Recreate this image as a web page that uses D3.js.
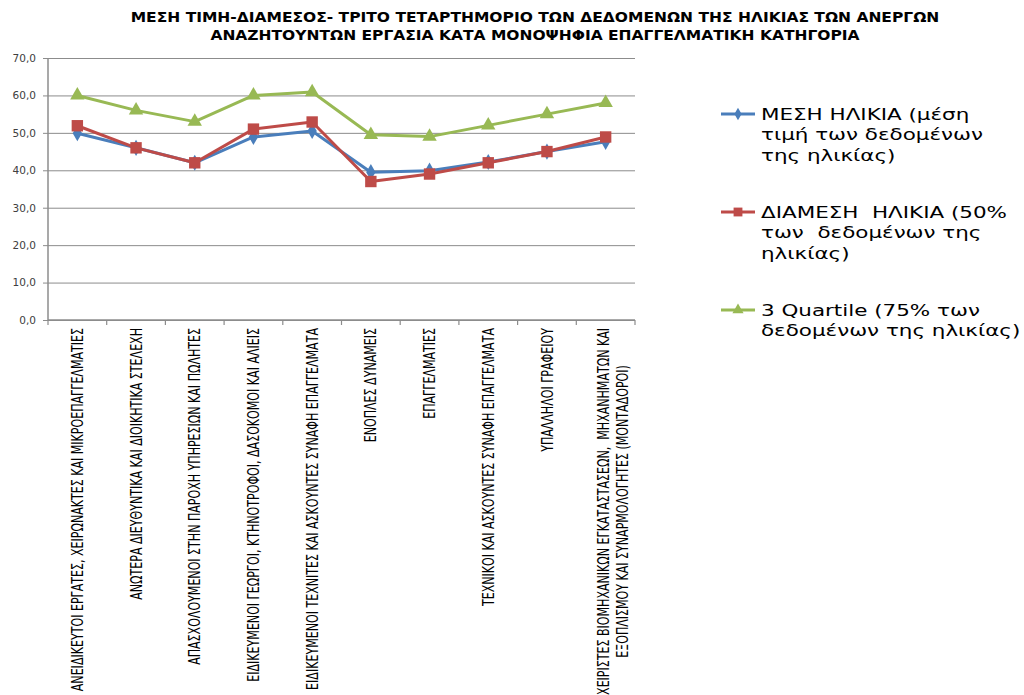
<!DOCTYPE html>
<html>
<head>
<meta charset="utf-8">
<script src="https://cdn.jsdelivr.net/npm/d3@7"></script>
<style>
  body { margin: 0; background: #fff; }
  svg { display: block; }
  text { white-space: pre; }
</style>
</head>
<body>
<svg width="1024" height="695"></svg>
<script>
const categories = [
    ["ΑΝΕΙΔΙΚΕΥΤΟΙ ΕΡΓΑΤΕΣ, ΧΕΙΡΩΝΑΚΤΕΣ ΚΑΙ ΜΙΚΡΟΕΠΑΓΓΕΛΜΑΤΙΕΣ"],
    ["ΑΝΩΤΕΡΑ ΔΙΕΥΘΥΝΤΙΚΑ ΚΑΙ ΔΙΟΙΚΗΤΙΚΑ ΣΤΕΛΕΧΗ"],
    ["ΑΠΑΣΧΟΛΟΥΜΕΝΟΙ ΣΤΗΝ ΠΑΡΟΧΗ ΥΠΗΡΕΣΙΩΝ ΚΑΙ ΠΩΛΗΤΕΣ"],
    ["ΕΙΔΙΚΕΥΜΕΝΟΙ ΓΕΩΡΓΟΙ, ΚΤΗΝΟΤΡΟΦΟΙ, ΔΑΣΟΚΟΜΟΙ ΚΑΙ ΑΛΙΕΙΣ"],
    ["ΕΙΔΙΚΕΥΜΕΝΟΙ ΤΕΧΝΙΤΕΣ ΚΑΙ ΑΣΚΟΥΝΤΕΣ ΣΥΝΑΦΗ ΕΠΑΓΓΕΛΜΑΤΑ"],
    ["ΕΝΟΠΛΕΣ ΔΥΝΑΜΕΙΣ"],
    ["ΕΠΑΓΓΕΛΜΑΤΙΕΣ"],
    ["ΤΕΧΝΙΚΟΙ ΚΑΙ ΑΣΚΟΥΝΤΕΣ ΣΥΝΑΦΗ ΕΠΑΓΓΕΛΜΑΤΑ"],
    ["ΥΠΑΛΛΗΛΟΙ ΓΡΑΦΕΙΟΥ"],
    ["ΧΕΙΡΙΣΤΕΣ ΒΙΟΜΗΧΑΝΙΚΩΝ ΕΓΚΑΤΑΣΤΑΣΕΩΝ,  ΜΗΧΑΝΗΜΑΤΩΝ ΚΑΙ", "ΕΞΟΠΛΙΣΜΟΥ ΚΑΙ ΣΥΝΑΡΜΟΛΟΓΗΤΕΣ (ΜΟΝΤΑΔΟΡΟΙ)"]
];

const meanAge = [49.9, 46.0, 42.0, 48.9, 50.5, 39.5, 39.9, 42.2, 45.0, 47.6];
const medianAge = [51.9, 46.0, 42.0, 51.0, 52.9, 37.0, 39.0, 42.0, 45.0, 48.9];
const thirdQuartile = [60.0, 56.0, 53.0, 60.0, 60.9, 49.5, 49.0, 52.0, 55.0, 58.0];

const yTicks = [0, 10, 20, 30, 40, 50, 60, 70];

const titleLines = [
    "ΜΕΣΗ ΤΙΜΗ-ΔΙΑΜΕΣΟΣ- ΤΡΙΤΟ ΤΕΤΑΡΤΗΜΟΡΙΟ ΤΩΝ ΔΕΔΟΜΕΝΩΝ ΤΗΣ ΗΛΙΚΙΑΣ ΤΩΝ ΑΝΕΡΓΩΝ",
    "ΑΝΑΖΗΤΟΥΝΤΩΝ ΕΡΓΑΣΙΑ ΚΑΤΑ ΜΟΝΟΨΗΦΙΑ ΕΠΑΓΓΕΛΜΑΤΙΚΗ ΚΑΤΗΓΟΡΙΑ"
];

const series = [
    { name: ["ΜΕΣΗ ΗΛΙΚΙΑ (μέση", "τιμή των δεδομένων", "της ηλικίας)"], values: meanAge, color: "#4a7ebb", symbol: d3.symbolDiamond, size: 75 },
    { name: ["ΔΙΑΜΕΣΗ  ΗΛΙΚΙΑ (50%", "των  δεδομένων της", "ηλικίας)"], values: medianAge, color: "#be4b48", symbol: d3.symbolSquare, size: 130 },
    { name: ["3 Quartile (75% των", "δεδομένων της ηλικίας)"], values: thirdQuartile, color: "#98b954", symbol: d3.symbolTriangle, size: 90 }
];

const svg = d3.select("svg");
const plotLeft = 48, plotRight = 635, plotTop = 58, plotBottom = 320;
const stretch = 1.3; // the source picture is widened sideways

const x = d3.scaleBand()
    .domain(d3.range(categories.length))
    .range([plotLeft, plotRight])
    .padding(0);

const y = d3.scaleLinear()
    .domain([0, 70])
    .range([plotBottom, plotTop]);

// title
svg.append("g")
    .selectAll("text")
    .data(titleLines)
    .enter()
    .append("text")
    .attr("x", 535)
    .attr("y", (d, i) => 22 + i * 18)
    .attr("text-anchor", "middle")
    .style("font-family", "'DejaVu Sans Condensed', 'DejaVu Sans', sans-serif")
    .style("font-weight", "bold")
    .style("font-size", "13.5px")
    .style("fill", "#000")
    .text(d => d)
    .each(function() {
        const w = this.getComputedTextLength();
        d3.select(this).attr("textLength", w * 1.275).attr("lengthAdjust", "spacingAndGlyphs");
    });

// y grid + labels
const yAxis = svg.append("g")
    .attr("transform", `translate(${plotLeft},0)`)
    .call(d3.axisLeft(y).tickValues(yTicks).tickSize(-(plotRight - plotLeft)).tickPadding(12)
        .tickFormat(d => d3.format(".1f")(d).replace(".", ",")));
yAxis.select(".domain").remove();
yAxis.selectAll(".tick line")
    .attr("stroke", "#8c8c8c")
    .attr("stroke-width", 1)
    .attr("x1", -5);
yAxis.selectAll(".tick text")
    .style("font-family", "'DejaVu Sans', Verdana, sans-serif")
    .style("font-size", "10.5px")
    .style("fill", "#404040");

// axis lines
svg.append("line")
    .attr("x1", plotLeft).attr("x2", plotLeft)
    .attr("y1", plotTop).attr("y2", plotBottom)
    .attr("stroke", "#8c8c8c").attr("stroke-width", 1.5);

const xAxis = svg.append("g")
    .attr("transform", `translate(0,${plotBottom})`);
xAxis.append("line")
    .attr("x1", plotLeft).attr("x2", plotRight)
    .attr("stroke", "#8c8c8c").attr("stroke-width", 1.5);
xAxis.selectAll("line.tick")
    .data(d3.range(categories.length + 1))
    .enter()
    .append("line")
    .attr("class", "tick")
    .attr("x1", d => plotLeft + d * x.bandwidth())
    .attr("x2", d => plotLeft + d * x.bandwidth())
    .attr("y1", 0).attr("y2", 5)
    .attr("stroke", "#8c8c8c").attr("stroke-width", 1.2);

// category labels, rotated
const labelGroups = svg.append("g")
    .selectAll("g")
    .data(categories)
    .enter()
    .append("g")
    .attr("transform", (d, i) => `translate(${x(i) + x.bandwidth() / 2 + (d.length - 1) * 7},${plotBottom + 8}) scale(${stretch},1) rotate(-90)`);

labelGroups.each(function(lines) {
    const g = d3.select(this);
    const texts = g.selectAll("text")
        .data(lines)
        .enter()
        .append("text")
        .attr("text-anchor", "middle")
        .attr("dy", "0.35em")
        .attr("y", (d, i) => (i - (lines.length - 1) / 2) * 14.5)
        .style("font-family", "'DejaVu Sans Condensed', 'DejaVu Sans', sans-serif")
        .style("font-size", "12.3px")
        .style("fill", "#000")
        .text(d => d);
    let maxLen = 0;
    texts.each(function() { maxLen = Math.max(maxLen, this.getComputedTextLength()); });
    texts.attr("x", -maxLen / 2);
});

// lines + markers
const line = d3.line()
    .x((d, i) => x(i) + x.bandwidth() / 2)
    .y(d => y(d));

series.forEach(s => {
    svg.append("path")
        .datum(s.values)
        .attr("fill", "none")
        .attr("stroke", s.color)
        .attr("stroke-width", 3)
        .attr("stroke-linejoin", "round")
        .attr("d", line);
    svg.append("g")
        .selectAll("path")
        .data(s.values)
        .enter()
        .append("path")
        .attr("transform", (d, i) => `translate(${x(i) + x.bandwidth() / 2},${y(d)})`)
        .attr("d", d3.symbol().type(s.symbol).size(s.size))
        .attr("fill", s.color);
});

// legend
const legend = svg.append("g")
    .selectAll("g")
    .data(series)
    .enter()
    .append("g")
    .attr("transform", (d, i) => `translate(721,${114 + i * 98})`);

legend.append("line")
    .attr("x1", 0).attr("x2", 34)
    .attr("stroke", d => d.color)
    .attr("stroke-width", 3);
legend.append("path")
    .attr("transform", "translate(17,0)")
    .attr("d", d => d3.symbol().type(d.symbol).size(d.size * 0.6)())
    .attr("fill", d => d.color);
legend.each(function(d) {
    d3.select(this).selectAll("text")
        .data(d.name)
        .enter()
        .append("text")
        .attr("x", 40)
        .attr("y", (t, i) => i * 20.5)
        .attr("dy", "0.35em")
        .style("font-family", "'DejaVu Sans', Verdana, sans-serif")
        .style("font-size", "16px")
        .style("fill", "#000")
        .text(t => t)
        .each(function() {
            const w = this.getComputedTextLength();
            d3.select(this).attr("textLength", w * 1.34).attr("lengthAdjust", "spacingAndGlyphs");
        });
});
</script>
</body>
</html>
